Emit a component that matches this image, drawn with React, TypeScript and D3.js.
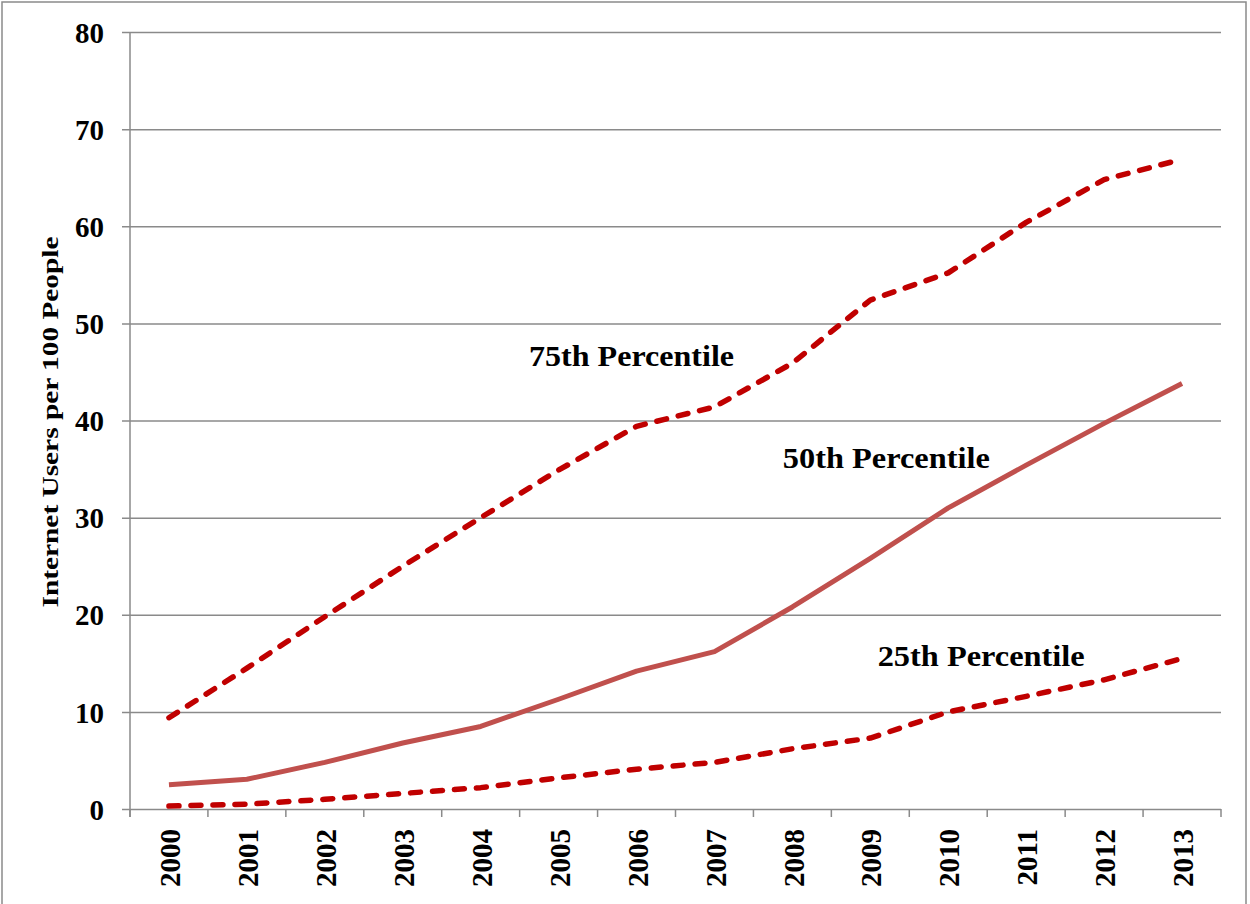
import React, { useRef, useEffect } from "react";
import * as d3 from "d3";

const years = ["2000", "2001", "2002", "2003", "2004", "2005", "2006", "2007", "2008", "2009", "2010", "2011", "2012", "2013"];
const p75 = [9.4, 14.5, 19.8, 25.0, 30.0, 34.9, 39.4, 41.4, 45.9, 52.4, 55.2, 60.4, 64.8, 66.9];
const p50 = [2.5, 3.06, 4.8, 6.8, 8.5, 11.3, 14.2, 16.2, 20.8, 25.8, 31.0, 35.4, 39.7, 43.8];
const p25 = [0.3, 0.5, 1.0, 1.6, 2.2, 3.2, 4.1, 4.8, 6.2, 7.3, 10.0, 11.6, 13.3, 15.5];
const yTicks = [0, 10, 20, 30, 40, 50, 60, 70, 80];

// annotation text, anchored next to a year on the value scale
const labels = [
  { text: "75th Percentile", year: "2006", dx: -5, value: 45.6, width: 205 },
  { text: "50th Percentile", year: "2009", dx: 16, value: 35.1, width: 207 },
  { text: "25th Percentile", year: "2011", dx: -45, value: 14.7, width: 207 },
];

const W = 1250;
const H = 904;
const margin = { left: 130, right: 1221, top: 32, bottom: 809 };
const FONT = "'Liberation Serif', 'Times New Roman', serif";

const App = () => {
  const svgRef = useRef<SVGSVGElement>(null);

  useEffect(() => {
    const svg = d3.select(svgRef.current);
    svg.selectAll("*").remove();

    const x = d3.scaleBand().domain(years).range([margin.left, margin.right]);
    const y = d3.scaleLinear().domain([0, 80]).range([margin.bottom, margin.top]);
    const cx = (d: string) => (x(d) as number) + x.bandwidth() / 2;

    // outer frame
    svg
      .append("rect")
      .attr("x", 2)
      .attr("y", 2)
      .attr("width", W - 6)
      .attr("height", H)
      .attr("fill", "white")
      .attr("stroke", "#8a8a8a")
      .attr("stroke-width", 1.5);

    // grid + y axis
    const yAxis = d3
      .axisLeft(y)
      .tickValues(yTicks)
      .tickSize(-(margin.right - margin.left))
      .tickSizeOuter(0)
      .tickPadding(0);
    const gy = svg.append("g").attr("transform", `translate(${margin.left},0)`).call(yAxis);
    gy.select(".domain").remove();
    gy.selectAll(".tick line").attr("x1", -8).attr("stroke", "#8a8a8a").attr("stroke-width", 1.5);
    gy.selectAll(".tick text")
      .attr("x", -26)
      .attr("dy", "0.35em")
      .attr("fill", "#000")
      .style("font-family", FONT)
      .style("font-weight", "bold")
      .style("font-size", "29px");

    svg
      .append("line")
      .attr("x1", margin.left)
      .attr("x2", margin.left)
      .attr("y1", margin.top)
      .attr("y2", margin.bottom + 8)
      .attr("stroke", "#8a8a8a")
      .attr("stroke-width", 1.5);

    // x axis: ticks at band boundaries
    const boundaries = years.map((d) => x(d) as number).concat([margin.right]);
    svg
      .append("g")
      .selectAll("line")
      .data(boundaries)
      .join("line")
      .attr("x1", (d) => d)
      .attr("x2", (d) => d)
      .attr("y1", margin.bottom)
      .attr("y2", margin.bottom + 8)
      .attr("stroke", "#8a8a8a")
      .attr("stroke-width", 1.5);

    svg
      .append("g")
      .selectAll("text")
      .data(years)
      .join("text")
      .attr("transform", (d) => `translate(${cx(d) + 1},829) rotate(-90)`)
      .attr("text-anchor", "end")
      .attr("dy", "0.35em")
      .style("font-family", FONT)
      .style("font-weight", "bold")
      .style("font-size", "29px")
      .text((d) => d);

    // axis title
    svg
      .append("text")
      .attr("transform", "translate(58,422) rotate(-90)")
      .attr("text-anchor", "middle")
      .attr("textLength", 371)
      .attr("lengthAdjust", "spacingAndGlyphs")
      .style("font-family", FONT)
      .style("font-weight", "bold")
      .style("font-size", "24px")
      .text("Internet Users per 100 People");

    const line = d3
      .line<number>()
      .x((d, i) => cx(years[i]))
      .y((d) => y(d));

    const series = [
      { data: p75, color: "#C00000", dash: "10 12" },
      { data: p50, color: "#C0504D", dash: null },
      { data: p25, color: "#C00000", dash: "10 12" },
    ];

    svg
      .append("g")
      .selectAll("path")
      .data(series)
      .join("path")
      .attr("d", (s) => line(s.data))
      .attr("fill", "none")
      .attr("stroke", (s) => s.color)
      .attr("stroke-width", (s) => (s.dash ? 5.5 : 5))
      .attr("stroke-linecap", (s) => (s.dash ? "round" : "butt"))
      .attr("stroke-linejoin", "round")
      .attr("stroke-dasharray", (s) => s.dash);

    svg
      .append("g")
      .selectAll("text")
      .data(labels)
      .join("text")
      .attr("x", (d) => cx(d.year) + d.dx)
      .attr("y", (d) => y(d.value))
      .attr("text-anchor", "middle")
      .attr("textLength", (d) => d.width)
      .attr("lengthAdjust", "spacingAndGlyphs")
      .style("font-family", FONT)
      .style("font-weight", "bold")
      .style("font-size", "29px")
      .text((d) => d.text);
  }, []);

  return (
    <svg
      ref={svgRef}
      width={W}
      height={H}
      style={{ position: "absolute", left: 0, top: 0, display: "block" }}
    />
  );
};

export default App;
